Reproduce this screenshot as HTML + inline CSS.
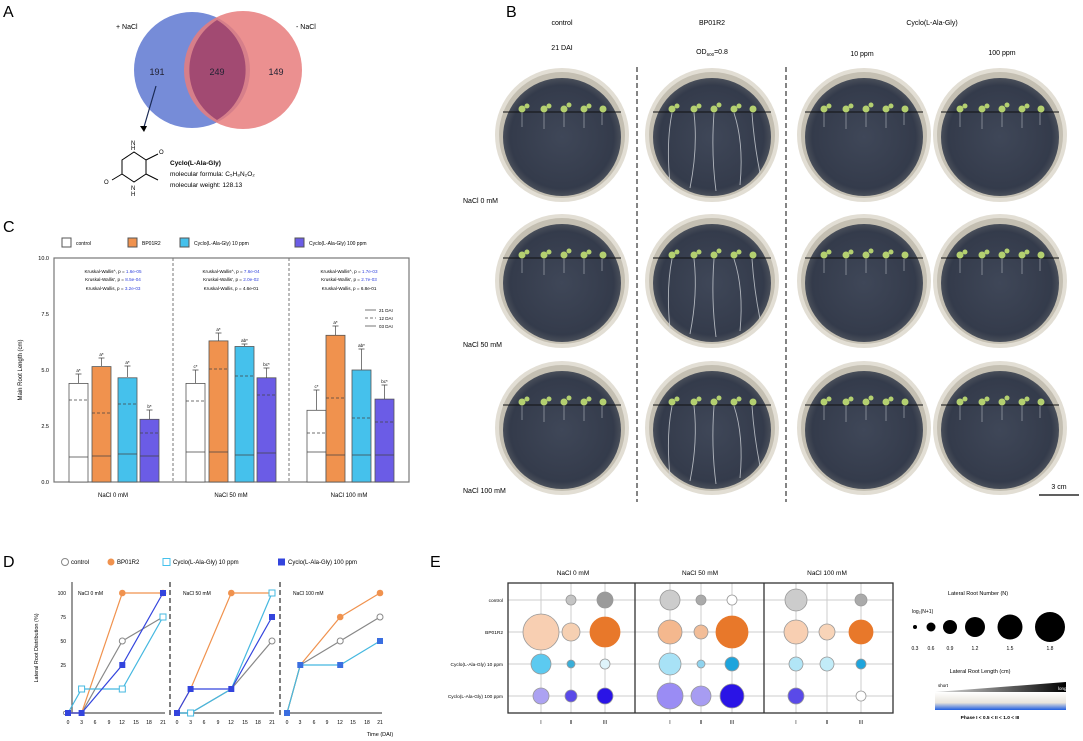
<!DOCTYPE html>
<html><head><meta charset="utf-8"><style>
html,body{margin:0;padding:0;background:#fff;}
svg{display:block;font-family:"Liberation Sans",sans-serif;}
</style></head><body>
<svg width="1083" height="741" viewBox="0 0 1083 741" xmlns="http://www.w3.org/2000/svg">
<defs>
<radialGradient id="pg" cx="50%" cy="50%" r="55%"><stop offset="0" stop-color="#3f4758"/><stop offset="0.8" stop-color="#343b4b"/><stop offset="1" stop-color="#5a5f66"/></radialGradient>
<g id="plate">
<ellipse rx="67" ry="67" fill="#e2ded4"/>
<ellipse rx="63" ry="63" fill="#c4bfb2"/>
<ellipse rx="59" ry="59" cy="2" fill="url(#pg)"/>
<line x1="-59" x2="59" y1="-23" y2="-23" stroke="#111" stroke-width="1.1"/>
</g>
<g id="sd" fill="#b4d070">
<circle cx="-40" cy="-26" r="3.5"/><circle cx="-35" cy="-29" r="2.5"/>
<circle cx="-18" cy="-26" r="3.5"/><circle cx="-13" cy="-29" r="2.5"/>
<circle cx="2" cy="-26" r="3.5"/><circle cx="7" cy="-30" r="2.5"/>
<circle cx="22" cy="-26" r="3.5"/><circle cx="27" cy="-29" r="2.5"/>
<circle cx="41" cy="-26" r="3.5"/>
</g>
<g id="roots" stroke="#cfd3d8" stroke-width="0.9" fill="none" opacity="0.8">
<path d="M-40,-22 q-6,30 -2,70"/><path d="M-18,-22 q4,35 -4,75"/><path d="M2,-22 q-3,40 2,78"/><path d="M22,-22 q10,30 6,72"/><path d="M40,-22 q2,30 8,60"/>
</g>
<g id="sroots" stroke="#cfd3d8" stroke-width="0.8" fill="none" opacity="0.6">
<path d="M-40,-22 v14"/><path d="M-18,-22 v16"/><path d="M2,-22 v14"/><path d="M22,-22 v15"/><path d="M40,-22 v12"/>
</g>
<linearGradient id="blg" x1="0" y1="0" x2="0" y2="1"><stop offset="0" stop-color="#fff"/><stop offset="0.6" stop-color="#e8e4dc"/><stop offset="1" stop-color="#1f5ee0"/></linearGradient>
<linearGradient id="tri" x1="0" x2="1"><stop offset="0" stop-color="#ddd"/><stop offset="1" stop-color="#000"/></linearGradient>
</defs>

<!-- Panel A -->
<text x="3" y="17" font-size="16">A</text>
<circle cx="192" cy="70" r="58" fill="#6f86d6" opacity="0.95"/>
<circle cx="243" cy="70" r="59" fill="#e77c7c" opacity="0.85"/>
<path d="M217,20 A58,58 0 0 1 217,120 A59,59 0 0 1 217,20Z" fill="#a24a72"/>
<text x="116" y="29" font-size="7">+ NaCl</text>
<text x="296" y="29" font-size="7">- NaCl</text>
<text x="157" y="75" font-size="9" text-anchor="middle" fill="#223">191</text>
<text x="217" y="75" font-size="9" text-anchor="middle" fill="#223">249</text>
<text x="276" y="75" font-size="9" text-anchor="middle" fill="#223">149</text>
<line x1="156" y1="86" x2="144" y2="127" stroke="#1a2a55" stroke-width="1.2"/>
<path d="M140,126 l4,6 l3,-6z" fill="#000"/>
<g stroke="#000" stroke-width="1" fill="none">
<path d="M122,160 l12,-8 l12,8 l0,14 l-12,8 l-12,-8z"/>
<path d="M146,160 l12,-6"/><path d="M146,174 l12,6"/><path d="M122,174 l-10,6"/>
</g>
<text x="131" y="150" font-size="6">H</text><text x="131" y="145" font-size="6">N</text>
<text x="131" y="190" font-size="6">N</text><text x="131" y="196" font-size="6">H</text>
<text x="159" y="154" font-size="6">O</text><text x="104" y="184" font-size="6">O</text>
<text x="170" y="165" font-size="6.5" font-weight="bold">Cyclo(L-Ala-Gly)</text>
<text x="170" y="176" font-size="6.5">molecular formula: C₅H₈N₂O₂</text>
<text x="170" y="187" font-size="6.5">molecular weight: 128.13</text>

<!-- Panel B -->
<text x="506" y="17" font-size="16">B</text>
<text x="562" y="25" font-size="7" text-anchor="middle">control</text>
<text x="562" y="50" font-size="7" text-anchor="middle">21 DAI</text>
<text x="712" y="25" font-size="7" text-anchor="middle">BP01R2</text>
<text x="712" y="54" font-size="7" text-anchor="middle">OD<tspan font-size="4.5" dy="2">600</tspan><tspan dy="-2">=0.8</tspan></text>
<text x="932" y="25" font-size="7" text-anchor="middle">Cyclo(L-Ala-Gly)</text>
<text x="862" y="56" font-size="7" text-anchor="middle">10 ppm</text>
<text x="1002" y="55" font-size="7" text-anchor="middle">100 ppm</text>
<line x1="637" y1="67" x2="637" y2="502" stroke="#333" stroke-width="1.2" stroke-dasharray="5,3"/>
<line x1="786" y1="67" x2="786" y2="502" stroke="#333" stroke-width="1.2" stroke-dasharray="5,3"/>
<g transform="translate(562,135)"><use href="#plate"/><use href="#sroots"/><use href="#sd"/></g>
<g transform="translate(712,135)"><use href="#plate"/><use href="#roots"/><use href="#sd"/></g>
<g transform="translate(864,135)"><use href="#plate"/><use href="#sroots"/><use href="#sd"/></g>
<g transform="translate(1000,135)"><use href="#plate"/><use href="#sroots"/><use href="#sd"/></g>
<g transform="translate(562,281)"><use href="#plate"/><use href="#sroots"/><use href="#sd"/></g>
<g transform="translate(712,281)"><use href="#plate"/><use href="#roots"/><use href="#sd"/></g>
<g transform="translate(864,281)"><use href="#plate"/><use href="#sroots"/><use href="#sd"/></g>
<g transform="translate(1000,281)"><use href="#plate"/><use href="#sroots"/><use href="#sd"/></g>
<g transform="translate(562,428)"><use href="#plate"/><use href="#sroots"/><use href="#sd"/></g>
<g transform="translate(712,428)"><use href="#plate"/><use href="#roots"/><use href="#sd"/></g>
<g transform="translate(864,428)"><use href="#plate"/><use href="#sroots"/><use href="#sd"/></g>
<g transform="translate(1000,428)"><use href="#plate"/><use href="#sroots"/><use href="#sd"/></g>
<text x="463" y="203" font-size="7">NaCl 0 mM</text>
<text x="463" y="347" font-size="7">NaCl 50 mM</text>
<text x="463" y="493" font-size="7">NaCl 100 mM</text>
<line x1="1039" y1="495" x2="1079" y2="495" stroke="#000" stroke-width="1.2"/>
<text x="1059" y="489" font-size="7" text-anchor="middle">3 cm</text>

<!-- Panel C -->
<text x="3" y="232" font-size="16">C</text>
<g font-size="5">
<rect x="62" y="238" width="9" height="9" fill="#fff" stroke="#555"/><text x="76" y="245">control</text>
<rect x="128" y="238" width="9" height="9" fill="#f0924e" stroke="#555"/><text x="142" y="245">BP01R2</text>
<rect x="180" y="238" width="9" height="9" fill="#45c1ec" stroke="#555"/><text x="194" y="245">Cyclo(L-Ala-Gly) 10 ppm</text>
<rect x="295" y="238" width="9" height="9" fill="#6b5ce6" stroke="#555"/><text x="309" y="245">Cyclo(L-Ala-Gly) 100 ppm</text>
</g>
<rect x="54" y="258" width="355" height="224" fill="#fff" stroke="#777" stroke-width="1.2"/>
<line x1="173" y1="258" x2="173" y2="482" stroke="#777" stroke-dasharray="3,2"/>
<line x1="289" y1="258" x2="289" y2="482" stroke="#777" stroke-dasharray="3,2"/>
<g font-size="5.5" text-anchor="end">
<text x="49" y="260">10.0</text><text x="49" y="316">7.5</text><text x="49" y="372">5.0</text><text x="49" y="428">2.5</text><text x="49" y="484">0.0</text>
</g>
<text transform="translate(22,370) rotate(-90)" font-size="6" text-anchor="middle">Main Root Length (cm)</text>
<g font-size="4.6" text-anchor="middle">
<text x="113" y="273">Kruskal-Wallis^, p = <tspan fill="#3344dd">1.6e-05</tspan></text>
<text x="113" y="281">Kruskal-Wallis', p = <tspan fill="#3344dd">8.5e-04</tspan></text>
<text x="113" y="290">Kruskal-Wallis, p = <tspan fill="#3344dd">3.2e-03</tspan></text>
<text x="231" y="273">Kruskal-Wallis^, p = <tspan fill="#3344dd">7.6e-04</tspan></text>
<text x="231" y="281">Kruskal-Wallis', p = <tspan fill="#3344dd">2.0e-02</tspan></text>
<text x="231" y="290">Kruskal-Wallis, p = 4.6e-01</text>
<text x="349" y="273">Kruskal-Wallis^, p = <tspan fill="#3344dd">1.7e-03</tspan></text>
<text x="349" y="281">Kruskal-Wallis', p = <tspan fill="#3344dd">2.7e-03</tspan></text>
<text x="349" y="290">Kruskal-Wallis, p = 6.8e-01</text>
</g>
<g font-size="4.5" stroke="#777">
<line x1="365" y1="310" x2="376" y2="310"/><line x1="365" y1="318" x2="376" y2="318" stroke-dasharray="3,2"/><line x1="365" y1="326" x2="376" y2="326"/>
</g>
<g font-size="4.5"><text x="379" y="312">21 DAI</text><text x="379" y="320">12 DAI</text><text x="379" y="328">03 DAI</text></g>
<g stroke="#555" stroke-width="0.8">
<rect x="69" y="383.4" width="19" height="98.6" fill="#fff"/>
<rect x="92" y="366.6" width="19" height="115.4" fill="#f0924e"/>
<rect x="118" y="377.8" width="19" height="104.2" fill="#45c1ec"/>
<rect x="140" y="419.3" width="19" height="62.7" fill="#6b5ce6"/>
<rect x="186" y="383.4" width="19" height="98.6" fill="#fff"/>
<rect x="209" y="340.9" width="19" height="141.1" fill="#f0924e"/>
<rect x="235" y="346.5" width="19" height="135.5" fill="#45c1ec"/>
<rect x="257" y="377.8" width="19" height="104.2" fill="#6b5ce6"/>
<rect x="307" y="410.3" width="19" height="71.7" fill="#fff"/>
<rect x="326" y="335.3" width="19" height="146.7" fill="#f0924e"/>
<rect x="352" y="370" width="19" height="112" fill="#45c1ec"/>
<rect x="375" y="399.1" width="19" height="82.9" fill="#6b5ce6"/>
</g>
<g stroke="#444" stroke-width="0.7" fill="none">
<path d="M78.5,383 v-9 m-3,0 h6 M101.5,366 v-8 m-3,0 h6 M127.5,377 v-11 m-3,0 h6 M149.5,419 v-9 m-3,0 h6"/>
<path d="M195.5,383 v-13 m-3,0 h6 M218.5,341 v-8 m-3,0 h6 M244.5,346 v-2 m-3,0 h6 M266.5,378 v-10 m-3,0 h6"/>
<path d="M316.5,410 v-20 m-3,0 h6 M335.5,335 v-9 m-3,0 h6 M361.5,370 v-21 m-3,0 h6 M384.5,399 v-14 m-3,0 h6"/>
<path d="M69,400 h19 M92,413 h19 M118,404 h19 M140,433 h19 M186,401 h19 M209,369 h19 M235,376 h19 M257,395 h19 M307,433 h19 M326,398 h19 M352,418 h19 M375,422 h19" stroke-dasharray="3,2"/>
<path d="M69,457 h19 M92,456 h19 M118,454 h19 M140,456 h19 M186,452 h19 M209,452 h19 M235,455 h19 M257,453 h19 M307,452 h19 M326,455 h19 M352,455 h19 M375,455 h19"/>
</g>
<g font-size="4.5" text-anchor="middle">
<text x="78.5" y="372">a*</text><text x="101.5" y="356">a*</text><text x="127.5" y="364">a*</text><text x="149.5" y="408">b*</text>
<text x="195.5" y="368">c*</text><text x="218.5" y="331">a*</text><text x="244.5" y="342">ab*</text><text x="266.5" y="366">bc*</text>
<text x="316.5" y="388">c*</text><text x="335.5" y="324">a*</text><text x="361.5" y="347">ab*</text><text x="384.5" y="383">bc*</text>
</g>
<g font-size="6" text-anchor="middle">
<text x="113" y="497">NaCl 0 mM</text><text x="231" y="497">NaCl 50 mM</text><text x="349" y="497">NaCl 100 mM</text>
</g>

<!-- Panel D -->
<text x="3" y="567" font-size="16">D</text>
<g font-size="6">
<circle cx="65" cy="562" r="3.5" fill="#fff" stroke="#888"/><text x="71" y="564">control</text>
<circle cx="111" cy="562" r="3.5" fill="#f0924e"/><text x="117" y="564">BP01R2</text>
<rect x="163" y="558.5" width="7" height="7" fill="#fff" stroke="#45c1ec"/><text x="173" y="564">Cyclo(L-Ala-Gly) 10 ppm</text>
<rect x="278" y="558.5" width="7" height="7" fill="#3344dd"/><text x="288" y="564">Cyclo(L-Ala-Gly) 100 ppm</text>
</g>
<g stroke="#555" stroke-width="1.2" fill="none">
<path d="M72,582 V713 H165"/>
<path d="M177,713 H274"/><path d="M287,713 H382"/>
</g>
<line x1="170" y1="582" x2="170" y2="716" stroke="#555" stroke-width="1.5" stroke-dasharray="5,3"/>
<line x1="280" y1="582" x2="280" y2="716" stroke="#555" stroke-width="1.5" stroke-dasharray="5,3"/>
<g font-size="5" text-anchor="end"><text x="66" y="595">100</text><text x="66" y="619">75</text><text x="66" y="643">50</text><text x="66" y="667">25</text><text x="66" y="715">0</text></g>
<text transform="translate(38,648) rotate(-90)" font-size="5.5" text-anchor="middle">Lateral Root Distribution (%)</text>
<g font-size="5" text-anchor="middle">
<text x="68" y="724">0</text><text x="81.6" y="724">3</text><text x="95" y="724">6</text><text x="109" y="724">9</text><text x="122" y="724">12</text><text x="136" y="724">15</text><text x="149" y="724">18</text><text x="163" y="724">21</text>
<text x="177" y="724">0</text><text x="190.6" y="724">3</text><text x="204" y="724">6</text><text x="218" y="724">9</text><text x="231" y="724">12</text><text x="245" y="724">15</text><text x="258" y="724">18</text><text x="272" y="724">21</text>
<text x="287" y="724">0</text><text x="300" y="724">3</text><text x="314" y="724">6</text><text x="327" y="724">9</text><text x="340" y="724">12</text><text x="353" y="724">15</text><text x="367" y="724">18</text><text x="380" y="724">21</text>
</g>
<text x="380" y="736" font-size="5.5" text-anchor="middle">Time (DAI)</text>
<g font-size="5"><text x="78" y="595">NaCl 0 mM</text><text x="183" y="595">NaCl 50 mM</text><text x="293" y="595">NaCl 100 mM</text></g>
<g fill="none" stroke-width="1.2">
<polyline points="68,713 81.6,713 122.3,641 163,617" stroke="#888"/>
<polyline points="68,713 81.6,713 122.3,593 163,593" stroke="#f0924e"/>
<polyline points="68,713 81.6,689 122.3,689 163,617" stroke="#45b8e0"/>
<polyline points="68,713 81.6,713 122.3,665 163,593" stroke="#3344dd"/>
<polyline points="177,713 190.6,713 231.3,689 272,641" stroke="#888"/>
<polyline points="177,713 190.6,689 231.3,593 272,593" stroke="#f0924e"/>
<polyline points="177,713 190.6,713 231.3,689 272,593" stroke="#45b8e0"/>
<polyline points="177,713 190.6,689 231.3,689 272,617" stroke="#3344dd"/>
<polyline points="287,713 300.3,665 340.2,641 380,617" stroke="#888"/>
<polyline points="287,713 300.3,665 340.2,617 380,593" stroke="#f0924e"/>
<polyline points="287,713 300.3,665 340.2,665 380,641" stroke="#45b8e0"/>
</g>
<g>
<circle cx="122.3" cy="641" r="3" fill="#fff" stroke="#888"/><circle cx="163" cy="617" r="3" fill="#fff" stroke="#888"/>
<circle cx="122.3" cy="593" r="3.3" fill="#f0924e"/><circle cx="163" cy="593" r="3.3" fill="#f0924e"/>
<rect x="78.6" y="686" width="6" height="6" fill="#fff" stroke="#45b8e0"/><rect x="119.3" y="686" width="6" height="6" fill="#fff" stroke="#45b8e0"/><rect x="160" y="614" width="6" height="6" fill="#fff" stroke="#45b8e0"/>
<rect x="65" y="710" width="6" height="6" fill="#3344dd"/><rect x="78.6" y="710" width="6" height="6" fill="#3344dd"/><rect x="119.3" y="662" width="6" height="6" fill="#3344dd"/><rect x="160" y="590" width="6" height="6" fill="#3344dd"/>
<circle cx="272" cy="641" r="3" fill="#fff" stroke="#888"/>
<circle cx="231.3" cy="593" r="3.3" fill="#f0924e"/><circle cx="272" cy="593" r="3.3" fill="#f0924e"/>
<rect x="187.6" y="710" width="6" height="6" fill="#fff" stroke="#45b8e0"/><rect x="269" y="590" width="6" height="6" fill="#fff" stroke="#45b8e0"/>
<rect x="174" y="710" width="6" height="6" fill="#3344dd"/><rect x="187.6" y="686" width="6" height="6" fill="#3344dd"/><rect x="228.3" y="686" width="6" height="6" fill="#3344dd"/><rect x="269" y="614" width="6" height="6" fill="#3344dd"/>
<circle cx="340.2" cy="641" r="3" fill="#fff" stroke="#888"/><circle cx="380" cy="617" r="3" fill="#fff" stroke="#888"/>
<circle cx="340.2" cy="617" r="3.3" fill="#f0924e"/><circle cx="380" cy="593" r="3.3" fill="#f0924e"/>
<rect x="284" y="710" width="6" height="6" fill="#3a6ee0"/><rect x="297.3" y="662" width="6" height="6" fill="#3a6ee0"/><rect x="337.2" y="662" width="6" height="6" fill="#3a6ee0"/><rect x="377" y="638" width="6" height="6" fill="#3a6ee0"/>
</g>

<!-- Panel E -->
<text x="430" y="567" font-size="16">E</text>
<g font-size="6.5" text-anchor="middle">
<text x="573" y="575">NaCl 0 mM</text><text x="700" y="575">NaCl 50 mM</text><text x="827" y="575">NaCl 100 mM</text>
</g>
<rect x="508" y="583" width="385" height="130" fill="#fff"/>
<g stroke="#ccc" stroke-width="1">
<path d="M508,600 H893 M508,632 H893 M508,664 H893 M508,696 H893"/>
<path d="M541,583 V713 M571,583 V713 M605,583 V713 M670,583 V713 M701,583 V713 M732,583 V713 M796,583 V713 M827,583 V713 M861,583 V713"/>
</g>
<rect x="508" y="583" width="385" height="130" fill="none" stroke="#333" stroke-width="1.3"/>
<line x1="635" y1="583" x2="635" y2="713" stroke="#333" stroke-width="1.3"/>
<line x1="764" y1="583" x2="764" y2="713" stroke="#333" stroke-width="1.3"/>
<g font-size="4.8" text-anchor="end">
<text x="503" y="602">control</text><text x="503" y="634">BP01R2</text><text x="503" y="666">Cyclo(L-Ala-Gly) 10 ppm</text><text x="503" y="698">Cyclo(L-Ala-Gly) 100 ppm</text>
</g>
<g font-size="5" text-anchor="middle">
<text x="541" y="724">I</text><text x="571" y="724">II</text><text x="605" y="724">III</text>
<text x="670" y="724">I</text><text x="701" y="724">II</text><text x="732" y="724">III</text>
<text x="796" y="724">I</text><text x="827" y="724">II</text><text x="861" y="724">III</text>
</g>
<g stroke="#999" stroke-width="0.8">
<circle cx="571" cy="600" r="5" fill="#c4c4c4"/><circle cx="605" cy="600" r="8" fill="#9a9a9a"/>
<circle cx="670" cy="600" r="10" fill="#cccccc"/><circle cx="701" cy="600" r="5" fill="#aaa"/><circle cx="732" cy="600" r="5" fill="#fff"/>
<circle cx="796" cy="600" r="11" fill="#cccccc"/><circle cx="861" cy="600" r="6" fill="#aaa"/>
<circle cx="541" cy="632" r="18" fill="#f8cfb2"/><circle cx="571" cy="632" r="9" fill="#f6d0b2"/><circle cx="605" cy="632" r="15" fill="#e8782a" stroke="#e8782a"/>
<circle cx="670" cy="632" r="12" fill="#f4b88e"/><circle cx="701" cy="632" r="7" fill="#f2bd98"/><circle cx="732" cy="632" r="16" fill="#e8782a" stroke="#e8782a"/>
<circle cx="796" cy="632" r="12" fill="#f8cfb2"/><circle cx="827" cy="632" r="8" fill="#f8d4b8"/><circle cx="861" cy="632" r="12" fill="#e8782a" stroke="#e8782a"/>
<circle cx="541" cy="664" r="10" fill="#5ccaf0"/><circle cx="571" cy="664" r="4" fill="#3aaed8"/><circle cx="605" cy="664" r="5" fill="#dff4fb"/>
<circle cx="670" cy="664" r="11" fill="#a8e2f6"/><circle cx="701" cy="664" r="4" fill="#8fd3ee"/><circle cx="732" cy="664" r="7" fill="#1ea4dc"/>
<circle cx="796" cy="664" r="7" fill="#b2e6f7"/><circle cx="827" cy="664" r="7" fill="#c2ecf8"/><circle cx="861" cy="664" r="5" fill="#1ea4dc"/>
<circle cx="541" cy="696" r="8" fill="#aca2f2"/><circle cx="571" cy="696" r="6" fill="#5a4ae8"/><circle cx="605" cy="696" r="8" fill="#2a14e6"/>
<circle cx="670" cy="696" r="13" fill="#9a8cf4"/><circle cx="701" cy="696" r="10" fill="#a79cf2"/><circle cx="732" cy="696" r="12" fill="#2a14e6"/>
<circle cx="796" cy="696" r="8" fill="#5a4ae8"/><circle cx="861" cy="696" r="5" fill="#fff"/>
</g>
<text x="978" y="595" font-size="5.5" text-anchor="middle">Lateral Root Number (N)</text>
<text x="912" y="613" font-size="5">log₂(N+1)</text>
<g fill="#000">
<circle cx="915" cy="627" r="2"/><circle cx="931" cy="627" r="4.5"/><circle cx="950" cy="627" r="7"/><circle cx="975" cy="627" r="10"/><circle cx="1010" cy="627" r="12.5"/><circle cx="1050" cy="627" r="15"/>
</g>
<g font-size="5" text-anchor="middle">
<text x="915" y="650">0.3</text><text x="931" y="650">0.6</text><text x="950" y="650">0.9</text><text x="975" y="650">1.2</text><text x="1010" y="650">1.5</text><text x="1050" y="650">1.8</text>
</g>
<text x="980" y="673" font-size="5.5" text-anchor="middle">Lateral Root Length (cm)</text>
<path d="M935,692 L1066,682 L1066,692Z" fill="url(#tri)"/>
<text x="938" y="687" font-size="4.5">short</text>
<text x="1058" y="690" font-size="4.5" fill="#fff">long</text>
<rect x="935" y="692" width="131" height="18" fill="url(#blg)"/>
<text x="990" y="719" font-size="4.8" text-anchor="middle" font-weight="bold">Phase I &lt; 0.5 &lt; II &lt; 1.0 &lt; III</text>
</svg>
</body></html>
